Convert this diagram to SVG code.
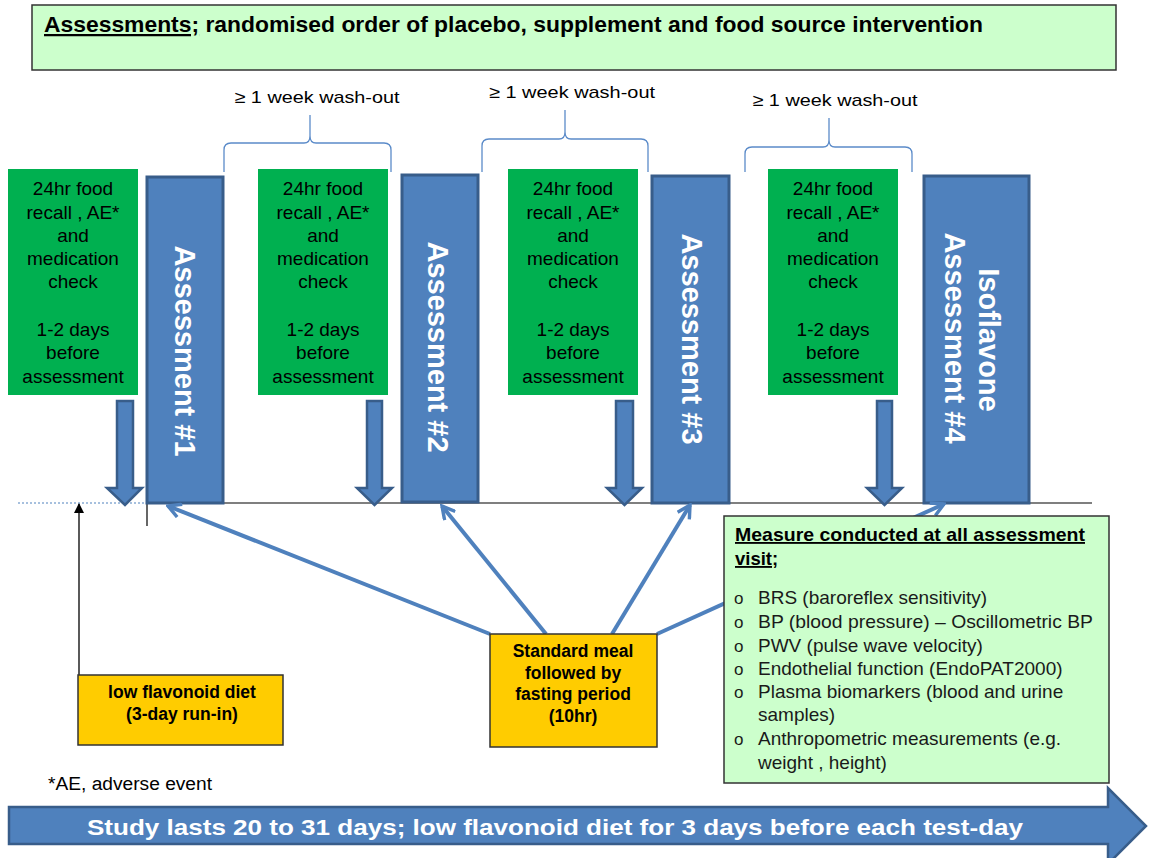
<svg xmlns="http://www.w3.org/2000/svg" width="1150" height="858" viewBox="0 0 1150 858">
  <style>
    text { font-family: "Liberation Sans", Arial, sans-serif; fill: #000; }
    .b { font-weight: bold; }
    .green { fill: #00b050; }
    .bar { fill: #4f81bd; stroke: #385d8a; stroke-width: 3; }
    .blk { fill: #4f81bd; stroke: #385d8a; stroke-width: 2.5; }
    .yel { fill: #ffcc00; stroke: #333; stroke-width: 1.5; }
    .lgreen { fill: #ccffcc; stroke: #333; stroke-width: 1.5; }
    .gtxt { font-size: 19px; text-anchor: middle; }
    .vtxt { font-size: 29px; font-weight: bold; fill: #fff; text-anchor: middle; }
    .brace { fill: none; stroke: #5b8bc9; stroke-width: 1.3; }
    .wash { font-size: 17px; text-anchor: middle; }
    .conn { fill: none; stroke: #4f81bd; stroke-width: 4; marker-end: url(#vee); }
    .item { font-size: 19px; fill: #1a1a1a; }
    .bullet { font-size: 17px; fill: #1a1a1a; }
    .ytxt { font-size: 17.5px; font-weight: bold; text-anchor: middle; }
  </style>
  <defs>
    <marker id="vee" viewBox="0 0 14 14" refX="12" refY="7" markerWidth="16" markerHeight="16" markerUnits="userSpaceOnUse" orient="auto">
      <path d="M1,1 L12,7 L1,13" fill="none" stroke="#4f81bd" stroke-width="3"/>
    </marker>
    <marker id="tri" viewBox="0 0 10 10" refX="9" refY="5" markerWidth="10" markerHeight="10" markerUnits="userSpaceOnUse" orient="auto">
      <path d="M0,0 L10,5 L0,10 Z" fill="#000"/>
    </marker>
  </defs>

  <!-- heading -->
  <g id="title">
    <rect x="32" y="5" width="1084" height="65" class="lgreen"/>
    <text x="44" y="32" class="b" font-size="22.5" textLength="939" lengthAdjust="spacingAndGlyphs"><tspan text-decoration="underline">Assessments;</tspan> randomised order of placebo, supplement and food source intervention</text>
  </g>

  <!-- wash-out braces -->
  <g id="washout1">
    <path class="brace" d="M224,172 V150 Q224,143 231,143 H304 Q310,143 310,136 V115 V136 Q310,143 316,143 H384 Q391,143 391,150 V172"/>
    <text x="317" y="103" class="wash" textLength="165" lengthAdjust="spacingAndGlyphs">≥ 1 week  wash-out</text>
  </g>
  <g id="washout2">
    <path class="brace" d="M482,172 V146 Q482,139 489,139 H559 Q565,139 565,132 V110 V132 Q565,139 571,139 H641 Q648,139 648,146 V172"/>
    <text x="572" y="98" class="wash" textLength="166" lengthAdjust="spacingAndGlyphs">≥ 1 week  wash-out</text>
  </g>
  <g id="washout3">
    <path class="brace" d="M745,172 V154 Q745,147 752,147 H823 Q829,147 829,140 V118 V140 Q829,147 835,147 H905 Q912,147 912,154 V172"/>
    <text x="835" y="106" class="wash" textLength="165" lengthAdjust="spacingAndGlyphs">≥ 1 week  wash-out</text>
  </g>

  <!-- timeline axis -->
  <g id="timeline">
    <line x1="18" y1="503" x2="147" y2="503" stroke="#4f81bd" stroke-width="1" stroke-dasharray="2,2"/>
    <line x1="147" y1="503" x2="1092" y2="503" stroke="#000" stroke-width="1.2"/>
    <line x1="147" y1="503" x2="147" y2="526" stroke="#000" stroke-width="1.2"/>
  </g>

  <!-- pre-visit checks -->
  <g id="check1">
    <rect x="8" y="169" width="130" height="226" class="green"/>
    <text class="gtxt"><tspan x="73" y="195">24hr food</tspan><tspan x="73" y="219">recall , AE*</tspan><tspan x="73" y="242">and</tspan><tspan x="73" y="265">medication</tspan><tspan x="73" y="288">check</tspan><tspan x="73" y="336">1-2 days</tspan><tspan x="73" y="359">before</tspan><tspan x="73" y="383">assessment</tspan></text>
    <path class="blk" d="M117,401 H133 V488 H142 L125,505 L107,488 H117 Z"/>
  </g>
  <g id="check2">
    <rect x="258" y="169" width="130" height="226" class="green"/>
    <text class="gtxt"><tspan x="323" y="195">24hr food</tspan><tspan x="323" y="219">recall , AE*</tspan><tspan x="323" y="242">and</tspan><tspan x="323" y="265">medication</tspan><tspan x="323" y="288">check</tspan><tspan x="323" y="336">1-2 days</tspan><tspan x="323" y="359">before</tspan><tspan x="323" y="383">assessment</tspan></text>
    <path class="blk" d="M367,401 H382 V488 H392 L374.5,505 L357,488 H367 Z"/>
  </g>
  <g id="check3">
    <rect x="508" y="169" width="130" height="226" class="green"/>
    <text class="gtxt"><tspan x="573" y="195">24hr food</tspan><tspan x="573" y="219">recall , AE*</tspan><tspan x="573" y="242">and</tspan><tspan x="573" y="265">medication</tspan><tspan x="573" y="288">check</tspan><tspan x="573" y="336">1-2 days</tspan><tspan x="573" y="359">before</tspan><tspan x="573" y="383">assessment</tspan></text>
    <path class="blk" d="M616,401 H633 V488 H642 L624.5,505 L607,488 H616 Z"/>
  </g>
  <g id="check4">
    <rect x="768" y="169" width="130" height="226" class="green"/>
    <text class="gtxt"><tspan x="833" y="195">24hr food</tspan><tspan x="833" y="219">recall , AE*</tspan><tspan x="833" y="242">and</tspan><tspan x="833" y="265">medication</tspan><tspan x="833" y="288">check</tspan><tspan x="833" y="336">1-2 days</tspan><tspan x="833" y="359">before</tspan><tspan x="833" y="383">assessment</tspan></text>
    <path class="blk" d="M877,401 H892 V488 H902 L884.5,505 L867,488 H877 Z"/>
  </g>

  <!-- assessment visits -->
  <g id="assessment1">
    <rect x="147" y="177" width="76" height="326" class="bar"/>
    <text class="vtxt" transform="translate(185,351) rotate(90)" y="10.4">Assessment #1</text>
  </g>
  <g id="assessment2">
    <rect x="402" y="175" width="76" height="327" class="bar"/>
    <text class="vtxt" transform="translate(438,347) rotate(90)" y="10.4">Assessment #2</text>
  </g>
  <g id="assessment3">
    <rect x="652" y="176" width="77" height="327" class="bar"/>
    <text class="vtxt" transform="translate(692,339) rotate(90)" y="10.4">Assessment #3</text>
  </g>
  <g id="assessment4">
    <rect x="924" y="176" width="105" height="327" class="bar"/>
    <text class="vtxt" transform="translate(989,340) rotate(90)" y="10.4">Isoflavone</text>
    <text class="vtxt" transform="translate(955,338) rotate(90)" y="10.4">Assessment #4</text>
  </g>

  <!-- connectors -->
  <g id="connectors">
    <line class="conn" x1="490" y1="634" x2="168" y2="506"/>
    <line class="conn" x1="546" y1="634" x2="442" y2="506"/>
    <line class="conn" x1="612" y1="634" x2="690" y2="505"/>
    <line class="conn" x1="657" y1="634" x2="944" y2="504"/>
    <line x1="79" y1="675" x2="79" y2="504" stroke="#000" stroke-width="1.3" marker-end="url(#tri)"/>
  </g>

  <!-- run-in diet -->
  <g id="runin">
    <rect x="78" y="675" width="205" height="70" class="yel"/>
    <text class="ytxt"><tspan x="182" y="698">low flavonoid diet</tspan><tspan x="182" y="720">(3-day run-in)</tspan></text>
  </g>

  <!-- standard meal -->
  <g id="meal">
    <rect x="490" y="634" width="167" height="113" class="yel"/>
    <text class="ytxt"><tspan x="573" y="657">Standard meal</tspan><tspan x="573" y="679">followed by</tspan><tspan x="573" y="700">fasting period</tspan><tspan x="573" y="722">(10hr)</tspan></text>
  </g>

  <!-- measures list -->
  <g id="measures">
    <rect x="724" y="516" width="385" height="267" class="lgreen"/>
    <text x="735" y="541" class="b" font-size="18.5" text-decoration="underline" textLength="350" lengthAdjust="spacingAndGlyphs">Measure conducted at all  assessment</text>
    <text x="735" y="565" class="b" font-size="18.5"><tspan text-decoration="underline">visit</tspan>;</text>
    <text x="734" y="604" class="bullet">o</text>
    <text x="734" y="628" class="bullet">o</text>
    <text x="734" y="652" class="bullet">o</text>
    <text x="734" y="675" class="bullet">o</text>
    <text x="734" y="698" class="bullet">o</text>
    <text x="734" y="745" class="bullet">o</text>
    <text x="758" y="604" class="item">BRS (baroreflex  sensitivity)</text>
    <text x="758" y="628" class="item" textLength="335" lengthAdjust="spacingAndGlyphs">BP (blood pressure) – Oscillometric BP</text>
    <text x="758" y="652" class="item">PWV (pulse  wave velocity)</text>
    <text x="758" y="675" class="item">Endothelial  function  (EndoPAT2000)</text>
    <text x="758" y="698" class="item">Plasma biomarkers (blood and urine</text>
    <text x="758" y="721" class="item">samples)</text>
    <text x="758" y="745" class="item">Anthropometric  measurements  (e.g.</text>
    <text x="758" y="769" class="item">weight , height)</text>
  </g>

  <!-- footnote -->
  <text id="footnote" x="48" y="790" font-size="18" textLength="164" lengthAdjust="spacingAndGlyphs">*AE, adverse event</text>

  <!-- study duration arrow -->
  <g id="duration">
    <path d="M9,807 H1108 V788 L1146,826 L1108,864 V844 H9 Z" fill="#4f81bd" stroke="#385d8a" stroke-width="2.5"/>
    <text x="555" y="835" font-size="22" class="b" style="fill:#fff" text-anchor="middle" textLength="936" lengthAdjust="spacingAndGlyphs">Study lasts 20 to 31 days; low flavonoid diet for 3 days before each test-day</text>
  </g>
</svg>
